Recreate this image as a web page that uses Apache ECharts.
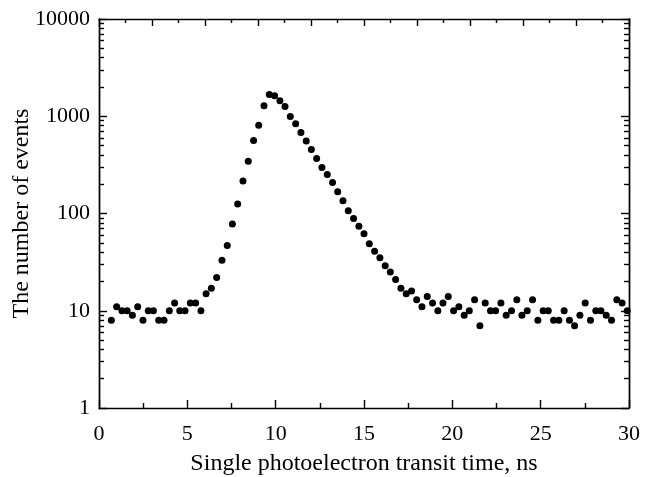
<!DOCTYPE html>
<html>
<head>
<meta charset="utf-8">
<script src="https://cdn.jsdelivr.net/npm/echarts@6/dist/echarts.min.js"></script>
<style>
html,body{margin:0;padding:0;background:#fff;}
#chart{width:646px;height:477px;}
</style>
</head>
<body>
<div id="chart"></div>
<script>
// Transit time (ns)
var times = [
  0.70, 1.00, 1.30, 1.59, 1.89, 2.19, 2.49, 2.79, 3.08, 3.38,
  3.68, 3.98, 4.28, 4.57, 4.87, 5.17, 5.47, 5.77, 6.06, 6.36,
  6.66, 6.96, 7.26, 7.55, 7.85, 8.15, 8.45, 8.75, 9.04, 9.34,
  9.64, 9.94, 10.24, 10.53, 10.83, 11.13, 11.43, 11.73, 12.02, 12.32,
  12.62, 12.92, 13.22, 13.51, 13.81, 14.11, 14.41, 14.71, 15.00, 15.30,
  15.60, 15.90, 16.20, 16.49, 16.79, 17.09, 17.39, 17.69, 17.98, 18.28,
  18.58, 18.88, 19.18, 19.47, 19.77, 20.07, 20.37, 20.67, 20.96, 21.26,
  21.56, 21.86, 22.16, 22.45, 22.75, 23.05, 23.35, 23.65, 23.94, 24.24,
  24.54, 24.84, 25.14, 25.43, 25.73, 26.03, 26.33, 26.63, 26.92, 27.22,
  27.52, 27.82, 28.12, 28.41, 28.71, 29.01, 29.31, 29.61, 29.90
];
// Number of events
var events = [
  8, 11, 10, 10, 9, 11, 8, 10, 10, 8,
  8, 10, 12, 10, 10, 12, 12, 10, 15, 17,
  22, 33, 47, 78, 125, 216, 345, 564, 810, 1280,
  1675, 1620, 1440, 1260, 995, 836, 681, 555, 455, 368,
  297, 252, 208, 167, 135, 107, 89, 74, 62, 49,
  41, 35, 29, 25, 21, 17, 15, 16, 13, 11,
  14, 12, 10, 12, 14, 10, 11, 9, 10, 13,
  7, 12, 10, 10, 12, 9, 10, 13, 9, 10,
  13, 8, 10, 10, 8, 8, 10, 8, 7, 9,
  12, 8, 10, 10, 9, 8, 13, 12, 10
];
var yMajorTicks = [1, 10, 100, 1000, 10000];
var yMinorTicks = [2,3,4,5,6,7,8,9,20,30,40,50,60,70,80,90,200,300,400,500,600,700,800,900,2000,3000,4000,5000,6000,7000,8000,9000];

var points = times.map(function (t, i) { return [t, events[i]]; });

var FONT = 'Liberation Serif';
var lineStyle = { color: '#000', width: 1.4 };
var tickTxt = { color: '#000', fontFamily: FONT, fontSize: 22 };
var nameTxt = { color: '#000', fontFamily: FONT, fontSize: 24 };

var chart = echarts.init(document.getElementById('chart'), null, { renderer: 'canvas' });

function yAxisDef(pos, ticks, len, withLabel, withName) {
  var ax = {
    type: 'log', logBase: 10, min: 1, max: 10000, position: pos,
    axisLine: { show: true, lineStyle: lineStyle },
    axisTick: { show: true, inside: true, length: len, lineStyle: lineStyle, customValues: ticks },
    axisLabel: withLabel ? Object.assign({
      show: true, margin: 9, customValues: ticks,
      formatter: function (v) { return String(Math.round(v)); }
    }, tickTxt) : { show: false },
    splitLine: { show: false },
    minorTick: { show: false }
  };
  if (withName) {
    ax.name = 'The number of events';
    ax.nameLocation = 'middle';
    ax.nameGap = 65;
    ax.nameMoveOverlap = false;
    ax.nameTextStyle = nameTxt;
  }
  return ax;
}

chart.setOption({
  animation: false,
  backgroundColor: '#fff',
  grid: { left: 99, right: 17, top: 19, bottom: 69, containLabel: false, outerBoundsMode: 'none' },
  xAxis: [
    {
      type: 'value', min: 0, max: 30, interval: 5, position: 'bottom',
      name: 'Single photoelectron transit time, ns',
      nameLocation: 'middle', nameGap: 44, nameMoveOverlap: false, nameTextStyle: nameTxt,
      axisLine: { show: true, onZero: false, lineStyle: lineStyle },
      axisTick: { show: true, inside: true, length: 8, lineStyle: lineStyle },
      minorTick: { show: true, splitNumber: 2, length: 5, lineStyle: lineStyle },
      axisLabel: Object.assign({ margin: 15 }, tickTxt),
      splitLine: { show: false }
    },
    {
      type: 'value', min: 0, max: 30, interval: 3, position: 'top',
      axisLine: { show: true, onZero: false, lineStyle: lineStyle },
      axisTick: { show: true, inside: true, length: 7, lineStyle: lineStyle },
      minorTick: { show: true, splitNumber: 2, length: 4, lineStyle: lineStyle },
      axisLabel: { show: false },
      splitLine: { show: false }
    }
  ],
  yAxis: [
    yAxisDef('left', yMajorTicks, 8, true, true),
    yAxisDef('left', yMinorTicks, 5, false, false),
    yAxisDef('right', yMajorTicks, 8, false, false),
    yAxisDef('right', yMinorTicks, 5, false, false)
  ],
  series: [{
    type: 'scatter',
    xAxisIndex: 0, yAxisIndex: 0,
    data: points,
    symbol: 'circle',
    symbolSize: 7,
    itemStyle: { color: '#000', opacity: 1 },
    clip: false
  }]
});
</script>
</body>
</html>
